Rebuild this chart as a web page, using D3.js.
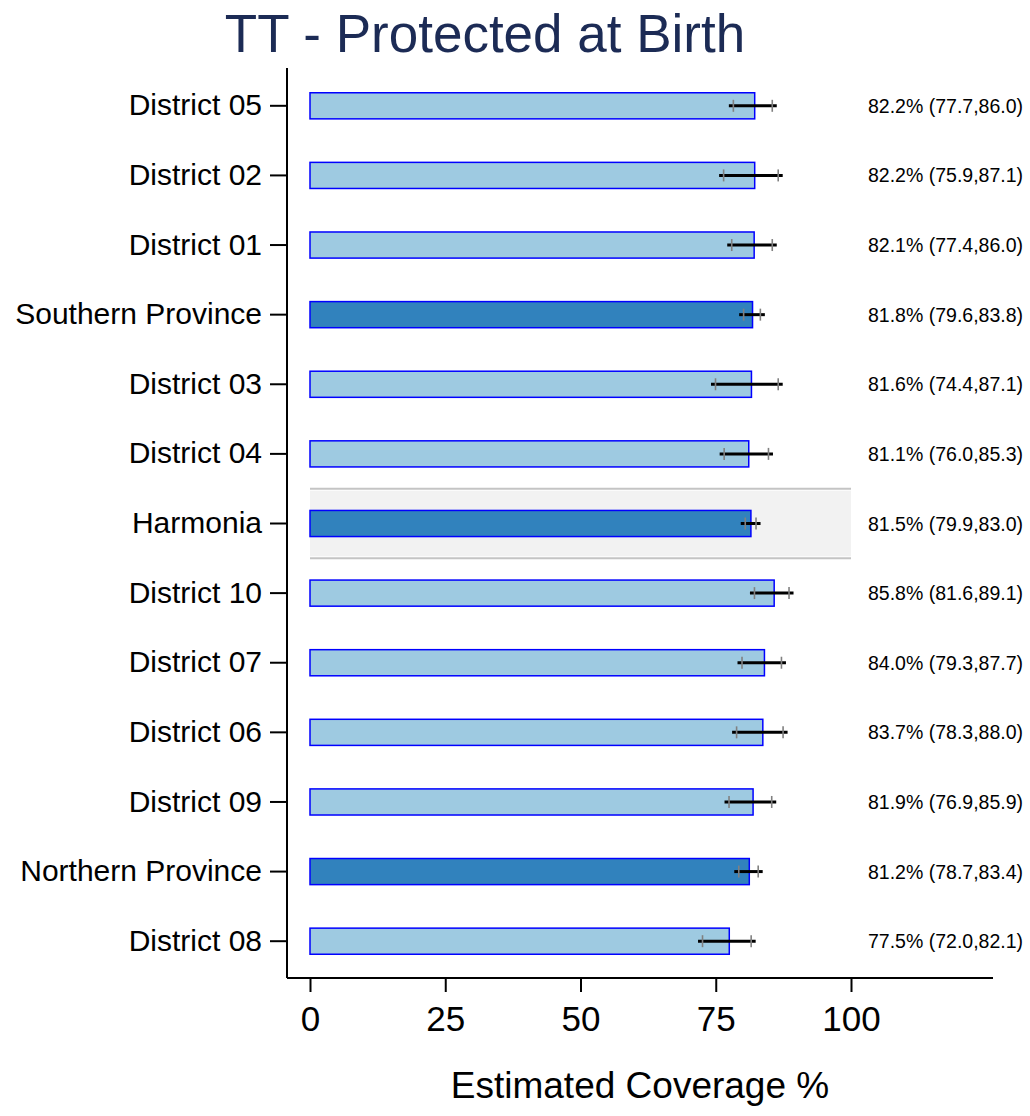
<!DOCTYPE html>
<html>
<head>
<meta charset="utf-8">
<script src="https://cdn.jsdelivr.net/npm/d3@7"></script>
<style>
  body { margin: 0; background: #fff; }
  svg { font-family: "Liberation Sans", Arial, sans-serif; display: block; }
</style>
</head>
<body>
<svg id="chart"></svg>
<script>
// chart data
const units = ["District 05", "District 02", "District 01", "Southern Province", "District 03", "District 04",
  "Harmonia", "District 10", "District 07", "District 06", "District 09", "Northern Province", "District 08"];
const coverage = [82.2, 82.2, 82.1, 81.8, 81.6, 81.1, 81.5, 85.8, 84.0, 83.7, 81.9, 81.2, 77.5];
const ciLow = [77.7, 75.9, 77.4, 79.6, 74.4, 76.0, 79.9, 81.6, 79.3, 78.3, 76.9, 78.7, 72.0];
const ciHigh = [86.0, 87.1, 86.0, 83.8, 87.1, 85.3, 83.0, 89.1, 87.7, 88.0, 85.9, 83.4, 82.1];
const level = ["district", "district", "district", "province", "district", "district",
  "national", "district", "district", "district", "district", "province", "district"];
const xTicks = [0, 25, 50, 75, 100];
const titleText = "TT - Protected at Birth";
const xTitle = "Estimated Coverage %";

const W = 1030, H = 1116;
const svg = d3.select("#chart").attr("width", W).attr("height", H);

const rows = units.map((u, i) => ({
  unit: u, est: coverage[i], lo: ciLow[i], hi: ciHigh[i], level: level[i]
}));

// scales
const x = d3.scaleLinear().domain([0, 100]).range([310, 851]);
const y = d3.scaleBand().domain(units).range([71, 976]).paddingInner(0);
const barH = y.bandwidth() * 0.375;
const axisX = 287, axisY = 978;

// national band highlight
const nat = rows.filter(d => d.level === "national");
svg.selectAll(".natband").data(nat).join("rect")
  .attr("x", x(0)).attr("width", x(100) - x(0))
  .attr("y", d => y(d.unit) + 2).attr("height", y.bandwidth() - 4)
  .attr("fill", "#f2f2f2");
nat.forEach(d => {
  [y(d.unit), y(d.unit) + y.bandwidth()].forEach(yy => {
    svg.append("line")
      .attr("x1", x(0)).attr("x2", x(100))
      .attr("y1", yy).attr("y2", yy)
      .attr("stroke", "#c4c4c4").attr("stroke-width", 2);
  });
});

// bars
svg.selectAll(".bar").data(rows).join("rect")
  .attr("class", "bar")
  .attr("x", x(0))
  .attr("y", d => y(d.unit) + y.bandwidth() / 2 - barH / 2)
  .attr("width", d => x(d.est) - x(0))
  .attr("height", barH)
  .attr("fill", d => d.level === "district" ? "#9ecae1" : "#3182bd")
  .attr("stroke", "#0000ff")
  .attr("stroke-width", 1.5);

// error bars
const eb = svg.selectAll(".eb").data(rows).join("g").attr("class", "eb")
  .attr("transform", d => `translate(0, ${y(d.unit) + y.bandwidth() / 2})`);
eb.append("line")
  .attr("x1", d => x(d.lo)).attr("x2", d => x(d.hi))
  .attr("stroke", "#000").attr("stroke-width", 3).attr("stroke-linecap", "square");
eb.each(function(d) {
  [d.lo, d.hi].forEach(v => {
    d3.select(this).append("line")
      .attr("x1", x(v) + (v === d.lo ? 3 : -3)).attr("x2", x(v) + (v === d.lo ? 3 : -3))
      .attr("y1", -6).attr("y2", 6)
      .attr("stroke", "#808080").attr("stroke-width", 1.6);
  });
});

// value labels
svg.selectAll(".val").data(rows).join("text")
  .attr("x", 868)
  .attr("y", d => y(d.unit) + y.bandwidth() / 2)
  .attr("dy", "0.36em")
  .attr("font-size", 19.5)
  .attr("fill", "#000")
  .text(d => `${d.est.toFixed(1)}% (${d.lo.toFixed(1)},${d.hi.toFixed(1)})`);

// y axis
const yAxis = svg.append("g").attr("transform", `translate(${axisX},0)`)
  .call(d3.axisLeft(y).tickSize(17).tickPadding(8));
yAxis.select(".domain").attr("d", `M0,68V${axisY}`).attr("stroke-width", 2);
yAxis.selectAll(".tick line").attr("stroke-width", 2);
yAxis.selectAll(".tick text").attr("font-size", 30).attr("font-family", "Liberation Sans, Arial, sans-serif")
  .attr("fill", "#000");

// x axis
const xAxis = svg.append("g").attr("transform", `translate(0,${axisY})`)
  .call(d3.axisBottom(x).tickValues(xTicks).tickSize(14).tickPadding(14));
xAxis.select(".domain").attr("d", `M${axisX},0H993`).attr("stroke-width", 2);
xAxis.selectAll(".tick line").attr("stroke-width", 2);
xAxis.selectAll(".tick text").attr("font-size", 35).attr("font-family", "Liberation Sans, Arial, sans-serif")
  .attr("fill", "#000");

// titles
svg.append("text")
  .attr("x", 485).attr("y", 52)
  .attr("text-anchor", "middle")
  .attr("font-size", 53)
  .attr("fill", "#1c2b55")
  .text(titleText);

svg.append("text")
  .attr("x", 640).attr("y", 1098)
  .attr("text-anchor", "middle")
  .attr("font-size", 37)
  .attr("fill", "#000")
  .text(xTitle);
</script>
</body>
</html>
